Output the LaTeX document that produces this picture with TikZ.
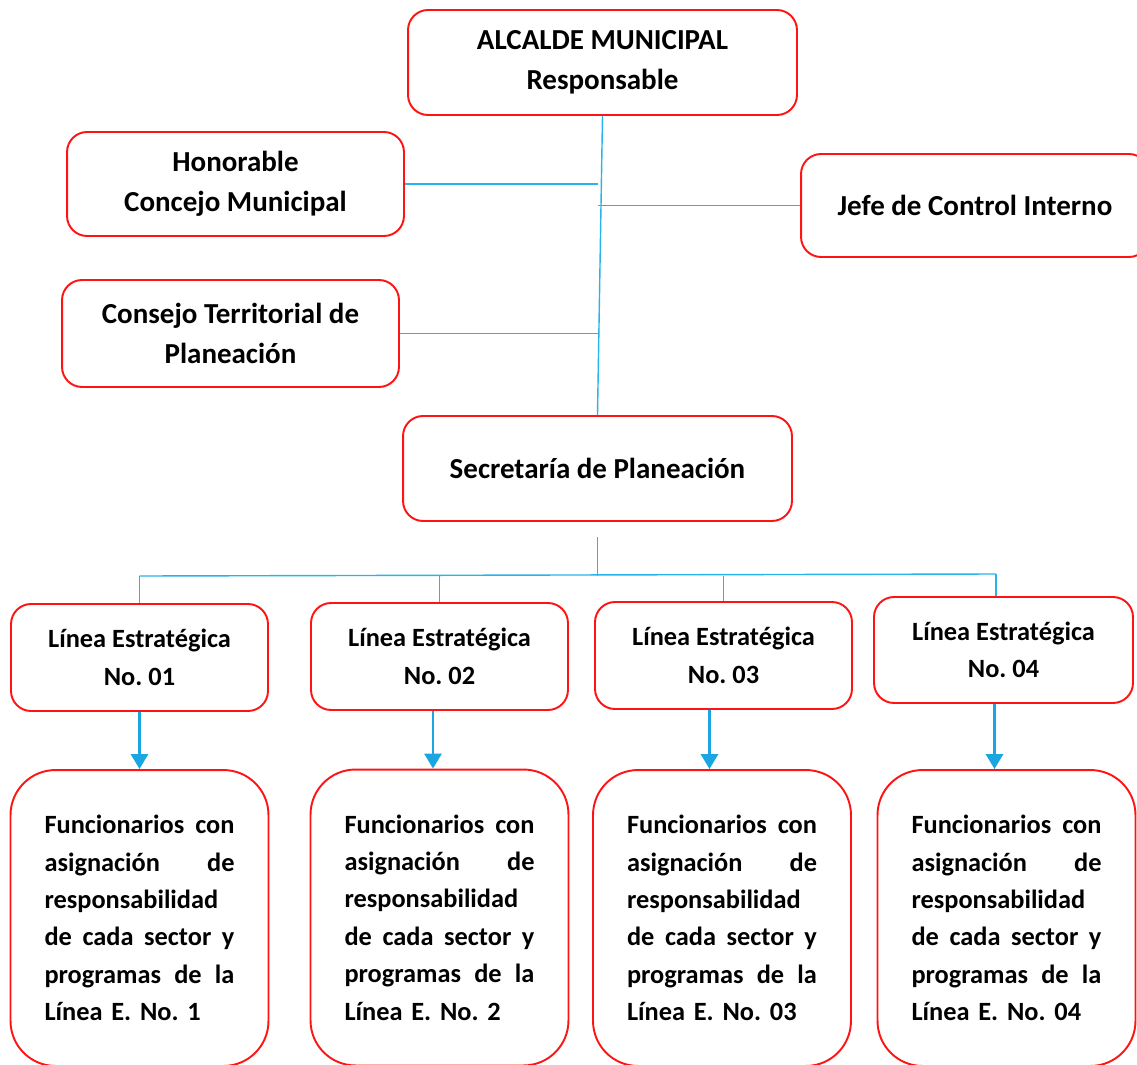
\documentclass[tikz,border=0pt]{standalone}
\usepackage{fontspec}
\setmainfont{Carlito}
\frenchspacing
\usetikzlibrary{arrows.meta}
\definecolor{boxcolor}{RGB}{255,20,20}
\definecolor{linkcolor}{RGB}{40,180,235}
\definecolor{arrowcolor}{RGB}{27,166,226}
\tikzset{
  orgbox/.style={draw=boxcolor, line width=1.1pt, rounded corners=0.4cm, align=center,
    inner sep=0pt, font=\fontsize{16.5}{23}\selectfont\bfseries},
  linebox/.style={orgbox, font=\fontsize{15}{21.3}\selectfont\bfseries,
    minimum width=5.14cm, minimum height=2.14cm},
  staffbox/.style={orgbox, rounded corners=0.9cm, font=\fontsize{15}{21.3}\selectfont\bfseries,
    text width=3.8cm, align=left, minimum width=5.16cm, minimum height=5.92cm},
  link/.style={linkcolor, line width=0.8pt},
  down/.style={arrowcolor, line width=1.7pt, -{Triangle[width=0.34cm,length=0.3cm]}}
}
\begin{document}
\begin{tikzpicture}[x=0.02cm,y=-0.02cm]
  \useasboundingbox (0,0) rectangle (1137,1065);
  \clip (0,0) rectangle (1137,1065);
  % Top level
  \node[orgbox, minimum width=7.78cm, minimum height=2.1cm] (alcalde) at (602.5,62.5)
    {ALCALDE MUNICIPAL\\Responsable};
  \node[orgbox, minimum width=6.74cm, minimum height=2.08cm] (honorable) at (235.5,184)
    {Honorable\\Concejo Municipal};
  \node[orgbox, minimum width=6.96cm, minimum height=2.06cm] (jefe) at (975,205.5)
    {Jefe de Control Interno};
  \node[orgbox, minimum width=6.74cm, minimum height=2.14cm] (consejo) at (230.5,333.5)
    {Consejo Territorial de\\Planeación};
  \node[orgbox, minimum width=7.78cm, minimum height=2.1cm] (secretaria) at (597.5,468.5)
    {Secretaría de Planeación};
  % Strategic lines
  \node[linebox] (linea1) at (139.5,657.5) {Línea Estratégica\\No. 01};
  \node[linebox] (linea2) at (439.5,656.5) {Línea Estratégica\\No. 02};
  \node[linebox] (linea3) at (723.5,655.5) {Línea Estratégica\\No. 03};
  \node[linebox, minimum width=5.18cm, minimum height=2.12cm] (linea4) at (1003.5,650) {Línea Estratégica\\No. 04};
  % Staff boxes
  \node[staffbox] (func1) at (139.5,918) {Funcionarios\hfill con\\ asignación\hfill de\\
    responsabilidad\\ de\hfill cada\hfill sector\hfill y\\ programas\hfill de\hfill la\\ Línea E. No. 1};
  \node[staffbox] (func2) at (439.5,917.5) {Funcionarios\hfill con\\ asignación\hfill de\\
    responsabilidad\\ de\hfill cada\hfill sector\hfill y\\ programas\hfill de\hfill la\\ Línea E. No. 2};
  \node[staffbox] (func3) at (722,918) {Funcionarios\hfill con\\ asignación\hfill de\\
    responsabilidad\\ de\hfill cada\hfill sector\hfill y\\ programas\hfill de\hfill la\\ Línea E. No. 03};
  \node[staffbox] (func4) at (1006.5,918) {Funcionarios\hfill con\\ asignación\hfill de\\
    responsabilidad\\ de\hfill cada\hfill sector\hfill y\\ programas\hfill de\hfill la\\ Línea E. No. 04};
  % Connectors
  \draw[link] (alcalde.south) -- (secretaria.north);
  \draw[link] (honorable.east) -- (honorable.east -| secretaria.north);
  \draw[link] (jefe.west) -- (jefe.west -| secretaria.north);
  \draw[link] (consejo.east) -- (consejo.east -| secretaria.north);
  \coordinate (secgap) at (597.5,537);
  \coordinate (busL) at (139.5,576);
  \coordinate (busR) at (996,574);
  \draw[link] (secgap) -- (secgap |- busL);
  \draw[link] (busL) -- (busR);
  \draw[link] (busL) -- (busL |- linea1.north);
  \draw[link] (busL -| linea2.north) -- (linea2.north);
  \draw[link] (busL -| linea3.north) -- (linea3.north);
  \draw[link] (busR) -- (busR |- linea4.north);
  \draw[down] (linea1.south) -- (func1.north);
  \draw[down] ([xshift=-0.13cm]linea2.south) -- ([xshift=-0.13cm]func2.north);
  \draw[down] ([xshift=-0.28cm]linea3.south) -- ([xshift=-0.28cm]linea3.south |- func3.north);
  \draw[down] ([xshift=-0.18cm]linea4.south) -- ([xshift=-0.18cm]linea4.south |- func4.north);
\end{tikzpicture}
\end{document}
